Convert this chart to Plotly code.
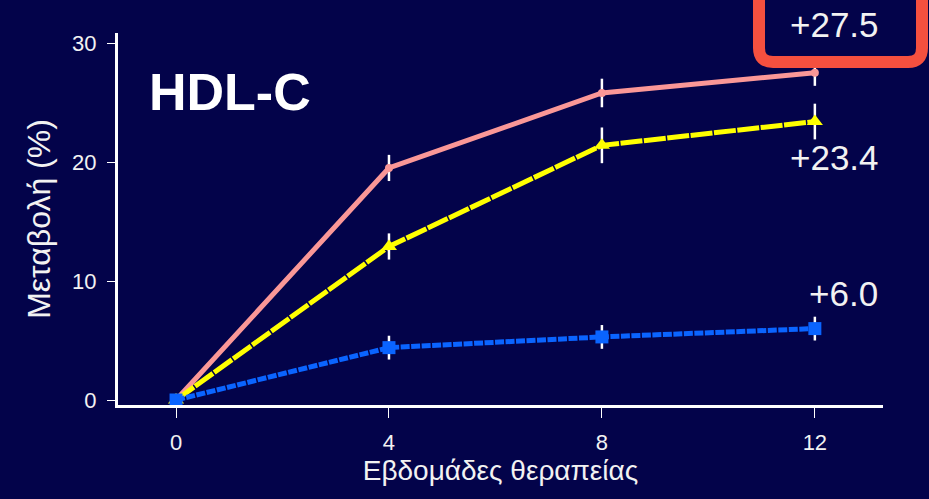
import plotly.graph_objects as go

# Weeks of therapy and mean % change in HDL-C per treatment arm
weeks = [0, 4, 8, 12]
arm_pink = [0, 19.5, 25.8, 27.5]
arm_yellow = [0, 12.9, 21.4, 23.4]
arm_blue = [0, 4.4, 5.3, 6.0]
err_pink = [0, 1.1, 1.2, 1.1]
err_yellow = [0, 1.1, 1.5, 1.5]
err_blue = [0, 1.0, 1.0, 1.0]
end_labels = ["+27.5", "+23.4", "+6.0"]
x_ticks = [0, 4, 8, 12]
y_ticks = [0, 10, 20, 30]

W, H = 929, 499
L, R, T, B = 118, 46, 33, 94
PW, PH = W - L - R, H - T - B


def px(xpix):
    return (xpix - L) / PW


def py(ypix):
    return (H - B - ypix) / PH


BG = "#03034a"
WHITE = "#f2f2f2"
FONT = "Liberation Sans, Arial, sans-serif"

fig = go.Figure()

# White error bars first, so the lines sit on top of them
for ys, es in [(arm_pink, err_pink), (arm_yellow, err_yellow), (arm_blue, err_blue)]:
    fig.add_trace(go.Scatter(
        x=weeks[1:], y=ys[1:], mode="markers",
        marker=dict(size=1, opacity=0),
        error_y=dict(type="data", array=es[1:], visible=True, color="white",
                     thickness=2.5, width=0),
        hoverinfo="skip", showlegend=False,
    ))

fig.add_trace(go.Scatter(
    x=weeks, y=arm_pink, mode="lines+markers",
    line=dict(color="#fa9797", width=5),
    marker=dict(symbol="circle", size=8, color="#fa9797"),
    showlegend=False,
))
fig.add_trace(go.Scatter(
    x=weeks, y=arm_yellow, mode="lines+markers",
    line=dict(color="#ffff00", width=5, dash="22px,1.5px"),
    marker=dict(symbol="triangle-up", size=14, color="#ffff00"),
    showlegend=False,
))
fig.add_trace(go.Scatter(
    x=weeks, y=arm_blue, mode="lines+markers",
    line=dict(color="#0a64ff", width=5, dash="9px,1.5px"),
    marker=dict(symbol="square", size=13, color="#0a64ff"),
    showlegend=False,
))

# Highlight box around the top value
x0, x1 = px(759), px(922)
y0, y1 = py(62), py(-20)
rx, ry = 14 / PW, 14 / PH
box_path = (
    f"M {x0},{y1} L {x0},{y0 + ry} Q {x0},{y0} {x0 + rx},{y0} "
    f"L {x1 - rx},{y0} Q {x1},{y0} {x1},{y0 + ry} L {x1},{y1}"
)
fig.add_shape(type="path", path=box_path, xref="paper", yref="paper",
              line=dict(color="#f5503f", width=12), layer="above")

ann_font = dict(family=FONT, size=35, color=WHITE)
for text, cx, cy in [(end_labels[0], 834, 24), (end_labels[1], 834, 157),
                     (end_labels[2], 843, 293)]:
    fig.add_annotation(x=px(cx), y=py(cy), xref="paper", yref="paper",
                       xanchor="center", yanchor="middle",
                       text=text, showarrow=False, font=ann_font)
fig.add_annotation(x=px(147), y=py(92), xref="paper", yref="paper",
                   xanchor="left", yanchor="middle", text="<b>HDL-C</b>",
                   showarrow=False, font=dict(family=FONT, size=52, color="white"))

axis_font = dict(family=FONT, size=22, color=WHITE)
fig.update_layout(
    width=W, height=H,
    margin=dict(l=L, r=R, t=T, b=B),
    paper_bgcolor=BG, plot_bgcolor=BG,
    font=dict(family=FONT, color=WHITE),
    xaxis=dict(
        range=[-1.09, 13.28], tickvals=x_ticks, ticktext=[str(v) for v in x_ticks],
        showgrid=False, zeroline=False,
        showline=True, linecolor="white", linewidth=3,
        ticks="outside", ticklen=10, tickwidth=1, tickcolor="white",
        tickfont=axis_font, ticklabelstandoff=6,
        title=dict(text="Εβδομάδες θεραπείας", standoff=6,
                   font=dict(family=FONT, size=28, color=WHITE)),
    ),
    yaxis=dict(
        range=[-0.42, 30.84], tickvals=y_ticks, ticktext=[str(v) for v in y_ticks],
        showgrid=False, zeroline=False,
        showline=True, linecolor="white", linewidth=3,
        ticks="outside", ticklen=8, tickwidth=1, tickcolor="white",
        tickfont=axis_font, ticklabelstandoff=6,
        title=dict(text="Μεταβολή (%)", standoff=12,
                   font=dict(family=FONT, size=32, color=WHITE)),
    ),
)

fig.write_html("out.html")
